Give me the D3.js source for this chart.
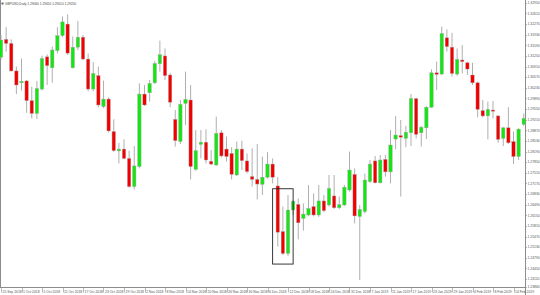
<!DOCTYPE html>
<html>
<head>
<meta charset="utf-8">
<script src="https://cdn.jsdelivr.net/npm/d3@7/dist/d3.min.js"></script>
<style>
  body { margin: 0; background: #fff; }
  svg { display: block; font-family: "Liberation Sans", Arial, sans-serif; }
</style>
</head>
<body>
<div id="chart"></div>
<script>
// GBPUSD daily bars, 25 Sep 2018 .. 18 Feb 2019
var symbol = "GBPUSD,Daily";

var opens = [1.3121,1.3178,1.3165,1.3077,1.3039,1.3045,1.2982,1.2941,1.3019,1.3122,
  1.3087,1.3142,1.3190,1.3227,1.3087,1.3153,1.3185,1.3115,1.3019,1.3062,
  1.2963,1.2987,1.2883,1.2821,1.2827,1.2797,1.2707,1.2771,1.3003,1.3007,
  1.3039,1.3100,1.3125,1.3064,1.2922,1.2851,1.2973,1.2984,1.2762,1.2842,
  1.2849,1.2788,1.2776,1.2879,1.2827,1.2813,1.2744,1.2827,1.2789,1.2739,
  1.2730,1.2714,1.2737,1.2779,1.2709,1.2563,1.2493,1.2632,1.2650,1.2605,
  1.2616,1.2643,1.2616,1.2661,1.2648,1.2677,1.2639,1.2648,1.2696,1.2746,
  1.2611,1.2627,1.2723,1.2789,1.2719,1.2794,1.2754,1.2859,1.2870,1.2861,
  1.2879,1.2988,1.2879,1.2895,1.2961,1.3071,1.3067,1.3183,1.3153,1.3067,
  1.3112,1.3103,1.3064,1.3039,1.2950,1.2933,1.2952,1.2933,1.2861,1.2895,
  1.2851,1.2803,1.2906];

var highs = [1.3192,1.3217,1.3178,1.3091,1.3117,1.3048,1.3027,1.3045,1.3126,1.3130,
  1.3155,1.3217,1.3251,1.3258,1.3187,1.3237,1.3192,1.3133,1.3105,1.3091,
  1.3046,1.2992,1.2922,1.2847,1.2858,1.2822,1.2837,1.3037,1.3032,1.3048,
  1.3109,1.3174,1.3149,1.3071,1.2952,1.2984,1.3075,1.3032,1.2888,1.2888,
  1.2890,1.2824,1.2931,1.2888,1.2867,1.2833,1.2851,1.2854,1.2813,1.2829,
  1.2843,1.2803,1.2817,1.2797,1.2737,1.2643,1.2680,1.2664,1.2669,1.2653,
  1.2712,1.2685,1.2712,1.2680,1.2744,1.2744,1.2675,1.2712,1.2819,1.2765,
  1.2648,1.2749,1.2792,1.2805,1.2808,1.2808,1.2888,1.2933,1.2920,1.2901,
  1.3003,1.2992,1.2901,1.2964,1.3082,1.3107,1.3219,1.3210,1.3199,1.3149,
  1.3160,1.3107,1.3103,1.3043,1.2984,1.2979,1.2981,1.2936,1.2898,1.2961,
  1.2883,1.2893,1.2941];

var lows = [1.3112,1.3139,1.3075,1.3003,1.3014,1.2943,1.2925,1.2923,1.3014,1.3032,
  1.3039,1.3133,1.3185,1.3128,1.3085,1.3144,1.3112,1.3012,1.3012,1.2961,
  1.2958,1.2880,1.2818,1.2781,1.2794,1.2703,1.2698,1.2765,1.2965,1.2979,
  1.3035,1.3075,1.3048,1.2961,1.2835,1.2843,1.2904,1.2730,1.2758,1.2797,
  1.2781,1.2776,1.2773,1.2800,1.2787,1.2730,1.2741,1.2760,1.2749,1.2707,
  1.2666,1.2680,1.2733,1.2717,1.2515,1.2488,1.2485,1.2616,1.2538,1.2566,
  1.2612,1.2612,1.2610,1.2625,1.2643,1.2635,1.2635,1.2645,1.2691,1.2589,
  1.2408,1.2621,1.2719,1.2717,1.2717,1.2739,1.2717,1.2826,1.2675,1.2833,
  1.2837,1.2861,1.2835,1.2859,1.2958,1.3016,1.3064,1.3139,1.3059,1.3061,
  1.3069,1.3064,1.3032,1.2929,1.2928,1.2858,1.2925,1.2847,1.2837,1.2843,
  1.2779,1.2792,1.2901];

var closes = [1.3176,1.3165,1.3077,1.3032,1.3044,1.2982,1.2941,1.3021,1.3117,1.3094,
  1.3144,1.3190,1.3234,1.3134,1.3153,1.3185,1.3115,1.3019,1.3069,1.2968,
  1.2987,1.2885,1.2822,1.2827,1.2797,1.2707,1.2773,1.3003,1.2968,1.3037,
  1.3101,1.3129,1.3062,1.2977,1.2854,1.2970,1.2986,1.2771,1.2822,1.2849,
  1.2792,1.2779,1.2877,1.2805,1.2803,1.2746,1.2827,1.2790,1.2755,1.2730,
  1.2715,1.2737,1.2779,1.2737,1.2561,1.2493,1.2632,1.2660,1.2591,1.2619,
  1.2637,1.2616,1.2661,1.2630,1.2701,1.2639,1.2649,1.2705,1.2760,1.2613,
  1.2634,1.2728,1.2779,1.2719,1.2792,1.2754,1.2840,1.2872,1.2865,1.2881,
  1.2989,1.2874,1.2897,1.2961,1.3071,1.3066,1.3197,1.3155,1.3069,1.3114,
  1.3107,1.3083,1.3039,1.2954,1.2933,1.2954,1.2948,1.2858,1.2895,1.2847,
  1.2803,1.2891,1.2925];

// one time label every 4 bars, starting at bar 0
var dateLabels = ["25 Sep 2018","1 Oct 2018","5 Oct 2018","11 Oct 2018","17 Oct 2018",
  "23 Oct 2018","29 Oct 2018","2 Nov 2018","8 Nov 2018","14 Nov 2018","20 Nov 2018",
  "26 Nov 2018","30 Nov 2018","6 Dec 2018","12 Dec 2018","18 Dec 2018","24 Dec 2018",
  "31 Dec 2018","7 Jan 2019","11 Jan 2019","17 Jan 2019","23 Jan 2019","29 Jan 2019",
  "4 Feb 2019","8 Feb 2019","14 Feb 2019"];
var labelStep = 4;

var priceTicks = [1.32950,1.32610,1.32270,1.31930,1.31590,1.31250,1.30910,1.30570,
  1.30230,1.29890,1.29550,1.29210,1.28870,1.28530,1.28190,1.27850,1.27510,1.27170,
  1.26830,1.26490,1.26150,1.25810,1.25470,1.25130,1.24790,1.24450,1.24110,1.23860];

// marked area: bars 53..57, price band
var boxBars = [53, 57];
var boxPrices = [1.2700, 1.2459];

(function () {
    var w = 540, h = 295,
        plotRight = 525.5,
        plotBottom = 287.5,
        bodyW = 3.4,
        upColor = "#14e614",
        downColor = "#f20000",
        wickColor = "#a6a6a6",
        axisColor = "#8c8c8c",
        textColor = "#555";

    var n = opens.length;
    var bars = d3.range(n).map(function (i) {
        return {i: i, o: opens[i], h: highs[i], l: lows[i], c: closes[i]};
    });

    var svg = d3.select("#chart").append("svg")
        .attr("width", w)
        .attr("height", h);

    var x = d3.scaleLinear().domain([0, n - 1]).range([1, 523.75]);
    var y = d3.scaleLinear().domain([1.23856, 1.3304]).range([287, 0]);

    // frame
    svg.append("line")
        .attr("x1", 0.5).attr("x2", 0.5).attr("y1", 0).attr("y2", plotBottom)
        .attr("stroke", axisColor).attr("stroke-width", 1);
    svg.append("line")
        .attr("x1", plotRight).attr("x2", plotRight).attr("y1", 0).attr("y2", h)
        .attr("stroke", axisColor).attr("stroke-width", 1);
    svg.append("line")
        .attr("x1", 0).attr("x2", plotRight).attr("y1", plotBottom).attr("y2", plotBottom)
        .attr("stroke", axisColor).attr("stroke-width", 1);

    // candles
    var g = svg.append("g");
    var candle = g.selectAll(".candle").data(bars).enter().append("g")
        .attr("class", "candle");

    candle.append("line")
        .attr("x1", function (d) { return x(d.i); })
        .attr("x2", function (d) { return x(d.i); })
        .attr("y1", function (d) { return y(d.h); })
        .attr("y2", function (d) { return y(d.l); })
        .attr("stroke", wickColor)
        .attr("stroke-width", 0.9);

    candle.append("rect")
        .attr("x", function (d) { return x(d.i) - bodyW / 2; })
        .attr("y", function (d) { return y(Math.max(d.o, d.c)); })
        .attr("width", bodyW)
        .attr("height", function (d) {
            return Math.max(1, Math.abs(y(d.o) - y(d.c)));
        })
        .attr("fill", function (d) { return d.c >= d.o ? upColor : downColor; })
        .attr("stroke", wickColor)
        .attr("stroke-width", 0.4);

    // highlight box
    svg.append("rect")
        .attr("x", x(boxBars[0]))
        .attr("y", y(boxPrices[0]))
        .attr("width", x(boxBars[1]) - x(boxBars[0]))
        .attr("height", y(boxPrices[1]) - y(boxPrices[0]))
        .attr("fill", "none")
        .attr("stroke", "#222")
        .attr("stroke-width", 0.9);

    // price scale
    var fmt = d3.format(".5f");
    var pt = svg.selectAll(".ptick").data(priceTicks).enter().append("g")
        .attr("class", "ptick");
    pt.append("line")
        .attr("x1", plotRight).attr("x2", plotRight + 1.5)
        .attr("y1", function (d) { return Math.round(y(d)) + 0.5; })
        .attr("y2", function (d) { return Math.round(y(d)) + 0.5; })
        .attr("stroke", axisColor).attr("stroke-width", 0.6);
    pt.append("text")
        .attr("x", plotRight + 2)
        .attr("y", function (d) { return y(d) + 1.2; })
        .attr("font-size", 3.4)
        .attr("fill", textColor)
        .text(function (d) { return fmt(d); });

    // time scale
    var tt = svg.selectAll(".ttick").data(dateLabels).enter().append("g")
        .attr("class", "ttick");
    tt.append("line")
        .attr("x1", function (d, i) { return Math.round(x(i * labelStep)) + 0.5; })
        .attr("x2", function (d, i) { return Math.round(x(i * labelStep)) + 0.5; })
        .attr("y1", plotBottom).attr("y2", plotBottom + 5)
        .attr("stroke", axisColor).attr("stroke-width", 0.6);
    tt.append("text")
        .attr("x", function (d, i) { return x(i * labelStep) + 1.5; })
        .attr("y", 292.6)
        .attr("font-size", 3.4)
        .attr("fill", textColor)
        .text(function (d) { return d; });

    // title: symbol and last bar OHLC
    var last = bars[n - 1];
    svg.append("rect")
        .attr("x", 1.5).attr("y", 2.5).attr("width", 2).attr("height", 2)
        .attr("fill", "#666");
    svg.append("text")
        .attr("x", 5)
        .attr("y", 4.8)
        .attr("font-size", 3.2)
        .attr("fill", "#444")
        .text(symbol + "  " + [last.o, last.h, last.l, last.c].map(fmt).join(" "));
})();
</script>
</body>
</html>
